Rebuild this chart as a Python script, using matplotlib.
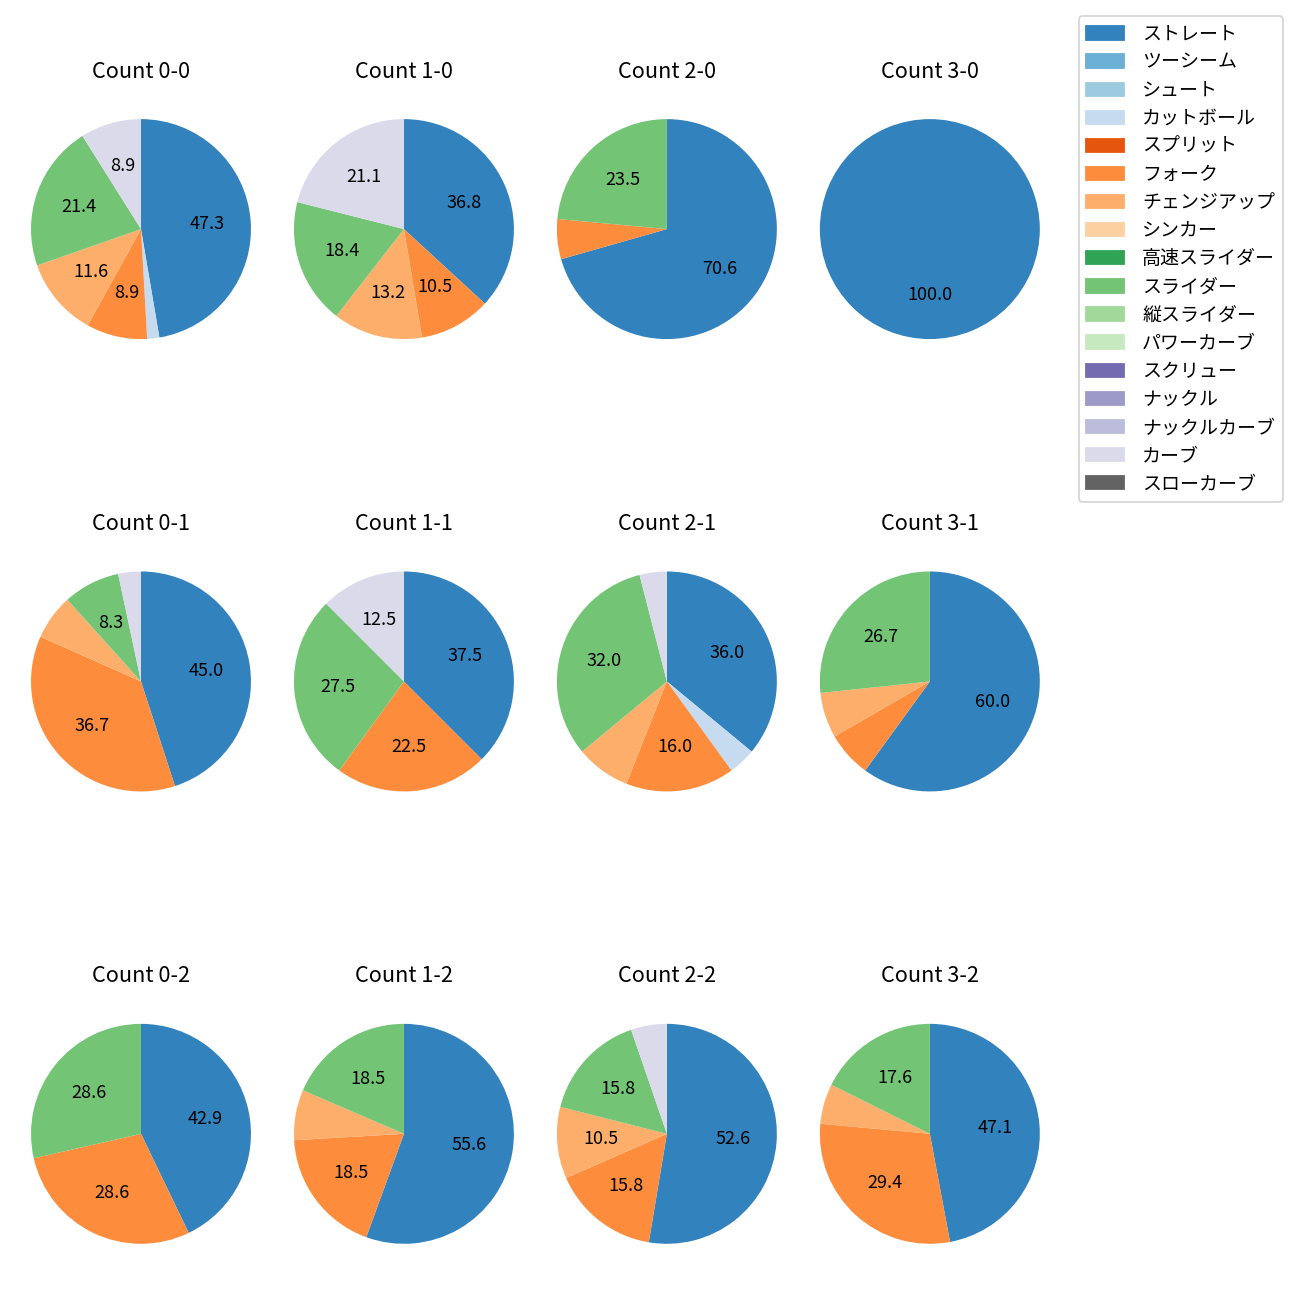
import matplotlib.pyplot as plt
from matplotlib.patches import Patch

plt.rcParams['font.family'] = ['Noto Sans CJK JP', 'DejaVu Sans']

# pitch types and colours (tab20c order)
pitch_types = ['ストレート', 'ツーシーム', 'シュート', 'カットボール', 'スプリット', 'フォーク',
               'チェンジアップ', 'シンカー', '高速スライダー', 'スライダー', '縦スライダー',
               'パワーカーブ', 'スクリュー', 'ナックル', 'ナックルカーブ', 'カーブ', 'スローカーブ']
colors = ['#3182bd', '#6baed6', '#9ecae1', '#c6dbef', '#e6550d', '#fd8d3c',
          '#fdae6b', '#fdd0a2', '#31a354', '#74c476', '#a1d99b', '#c7e9c0',
          '#756bb1', '#9e9ac8', '#bcbddc', '#dadaeb', '#636363']

counts = ['0-0', '1-0', '2-0', '3-0',
          '0-1', '1-1', '2-1', '3-1',
          '0-2', '1-2', '2-2', '3-2']

# pitch counts per ball-strike count
c_0_0 = {'ストレート': 53, 'カットボール': 2, 'フォーク': 10, 'チェンジアップ': 13, 'スライダー': 24, 'カーブ': 10}
c_1_0 = {'ストレート': 14, 'フォーク': 4, 'チェンジアップ': 5, 'スライダー': 7, 'カーブ': 8}
c_2_0 = {'ストレート': 12, 'フォーク': 1, 'スライダー': 4}
c_3_0 = {'ストレート': 5}
c_0_1 = {'ストレート': 27, 'フォーク': 22, 'チェンジアップ': 4, 'スライダー': 5, 'カーブ': 2}
c_1_1 = {'ストレート': 15, 'フォーク': 9, 'スライダー': 11, 'カーブ': 5}
c_2_1 = {'ストレート': 9, 'カットボール': 1, 'フォーク': 4, 'チェンジアップ': 2, 'スライダー': 8, 'カーブ': 1}
c_3_1 = {'ストレート': 9, 'フォーク': 1, 'チェンジアップ': 1, 'スライダー': 4}
c_0_2 = {'ストレート': 3, 'フォーク': 2, 'スライダー': 2}
c_1_2 = {'ストレート': 15, 'フォーク': 5, 'チェンジアップ': 2, 'スライダー': 5}
c_2_2 = {'ストレート': 10, 'フォーク': 3, 'チェンジアップ': 2, 'スライダー': 3, 'カーブ': 1}
c_3_2 = {'ストレート': 8, 'フォーク': 5, 'チェンジアップ': 1, 'スライダー': 3}

data = [c_0_0, c_1_0, c_2_0, c_3_0, c_0_1, c_1_1, c_2_1, c_3_1, c_0_2, c_1_2, c_2_2, c_3_2]

fig, axes = plt.subplots(3, 4, figsize=(10, 10))
fig.subplots_adjust(left=0.0027, right=0.821, top=0.9508, bottom=0.0008, wspace=-0.0436, hspace=0.3697)

for ax, cnt, d in zip(axes.flat, counts, data):
    names = [p for p in pitch_types if p in d]
    vals = [d[p] for p in names]
    cols = [colors[pitch_types.index(p)] for p in names]
    ax.pie(vals, colors=cols, startangle=90, counterclock=False,
           autopct=lambda p: f'{p:.1f}' if p > 8 else '')
    ax.set_title(f'Count {cnt}', pad=7.8)

handles = [Patch(color=c, label=p) for p, c in zip(pitch_types, colors)]
fig.legend(handles=handles, loc='upper right', bbox_to_anchor=(0.994, 0.995), fontsize=10.5,
           labelspacing=0.375, handletextpad=0.95)

fig.savefig('out.png', dpi=130)
